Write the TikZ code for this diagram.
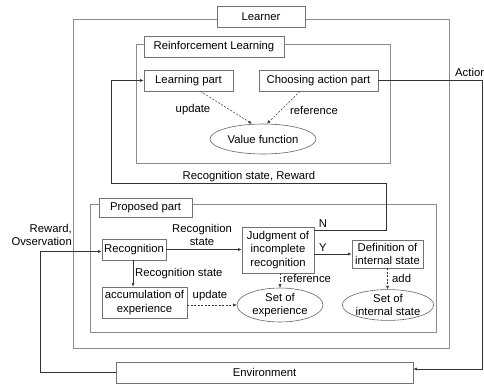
\documentclass[tikz,border=0pt]{standalone}
\usepackage{fontspec}
\setmainfont{Liberation Sans}
\usetikzlibrary{shapes.geometric,arrows.meta,calc}
\begin{document}
\begin{tikzpicture}[x=1pt,y=-1pt,
  font=\fontsize{11.3}{13.5}\selectfont,
  frame/.style={draw=black!45,line width=0.8pt},
  box/.style={draw=black!55,line width=0.8pt,fill=white,inner sep=0pt,align=center},
  oval/.style={ellipse,draw=black!60,line width=0.6pt,fill=white,inner sep=0pt,align=center},
  conn/.style={draw=black!80,line width=0.5pt},
  tip/.style={-{Latex[length=3.5pt,width=3pt]}},
  dashconn/.style={conn,dashed,dash pattern=on 2pt off 1.5pt},
  lbl/.style={inner sep=0pt,align=center}]
\useasboundingbox (0,0) rectangle (484,385);
% frames
\draw[frame] (73,19) rectangle (449,348);
\draw[frame] (136,44) rectangle (390,163);
\draw[frame] (90,204) rectangle (436,332);
% label boxes
\node[box,minimum width=88pt,minimum height=21pt] (learner) at (261,16.5) {Learner};
\node[box,minimum width=140pt,minimum height=21pt] (rl) at (214,46.5) {Reinforcement Learning};
\node[box,minimum width=93pt,minimum height=19pt] (prop) at (145.5,207.5) {Proposed part};
% nodes
\node[box,minimum width=89pt,minimum height=21pt] (learn) at (188.5,80.5) {Learning part};
\node[box,minimum width=119pt,minimum height=21pt] (choose) at (318.5,80.5) {Choosing action part};
\node[oval,minimum width=106pt,minimum height=30pt] (value) at (263,139) {Value function};
\node[box,minimum width=64pt,minimum height=21pt] (recog) at (134,249.5) {Recognition};
\node[box,minimum width=72pt,minimum height=46pt] (judg) at (278,250) {Judgment of\\incomplete\\recognition};
\node[box,minimum width=71pt,minimum height=28pt] (defn) at (387.5,254) {Definition of\\internal state};
\node[box,minimum width=85pt,minimum height=31pt] (accum) at (144.5,302.5) {accumulation of\\experience};
\node[oval,minimum width=86pt,minimum height=30pt] (setexp) at (280,305) {Set of\\experience};
\node[oval,minimum width=90pt,minimum height=30pt] (setint) at (388,305) {Set of\\internal state};
\node[box,minimum width=297pt,minimum height=21pt] (env) at (264.5,372.5) {Environment};
% coordinates
\coordinate (aR) at (482,369);
\coordinate (c1) at (386,183);
\coordinate (c2) at (111,183);
\coordinate (c3) at (40,372.5);
% RL connectors
\draw[dashconn,tip] ([xshift=12pt]learn.south) -- ([xshift=-11pt]value.north);
\draw[dashconn,tip] ([xshift=-18.5pt]choose.south) -- ([xshift=4pt]value.north);
\node[lbl] at (193,110) {update};
\node[lbl] at (314,110) {reference};
% Action
\draw[conn,tip] (choose.east) -| (aR) -- (aR -| env.east);
\node[lbl,anchor=west] at (455,72) {Action};
% Recognition state, Reward
\draw[conn,tip] ([yshift=-4pt]judg.north east) -| (c1) -- (c2) |- (learn.west);
\node[lbl] at (249,177) {Recognition state, Reward};
\node[lbl] at (323,224) {N};
% Reward, Observation
\draw[conn,tip] (env.west) -| (c3) |- ([yshift=-2pt]recog.west);
\node[lbl,anchor=east,align=right] at (72,235) {Reward,\\Ovservation};
% proposed connectors
\draw[conn,tip] (recog.east) -- (recog.east -| judg.west);
\node[lbl] at (202,235) {Recognition\\state};
\draw[conn,tip] (judg.east |- defn.west) -- (defn.west);
\node[lbl] at (323,248) {Y};
\draw[conn,tip] ([xshift=-1pt]recog.south) -- ([xshift=-1pt]recog.south |- accum.north);
\node[lbl,anchor=west] at (135,274) {Recognition state};
\draw[dashconn,tip] (accum.east |- setexp.west) -- (setexp.west);
\node[lbl] at (210,296) {update};
\draw[dashconn,tip] (judg.south -| setexp.north) -- (setexp.north);
\node[lbl,anchor=west] at (283,278) {reference};
\draw[dashconn,tip] (defn.south) -- (defn.south |- setint.north);
\node[lbl,anchor=west] at (392,278) {add};
\end{tikzpicture}
\end{document}
